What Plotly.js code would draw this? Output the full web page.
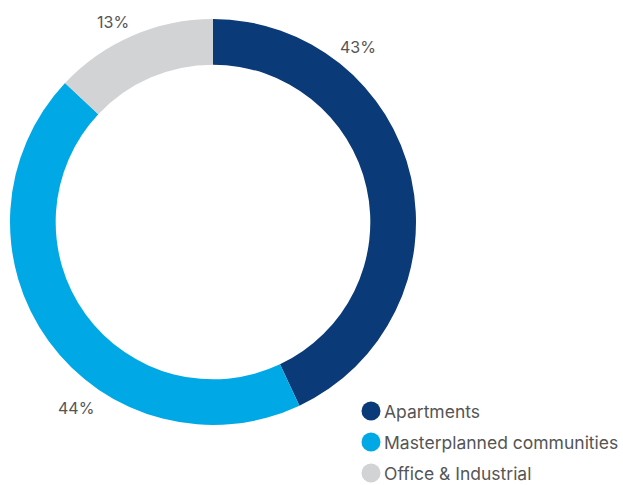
<!DOCTYPE html>
<html><head><meta charset="utf-8">
<script src="https://cdn.plot.ly/plotly-3.0.1.min.js"></script>
<style>html,body{margin:0;padding:0;background:#fff;}#chart{width:623px;height:485px;}</style>
</head><body><div id="chart"></div>
<script>
const categories = ["Apartments", "Masterplanned communities", "Office & Industrial"];
const values = [43, 44, 13];
const valueLabels = ["43%", "44%", "13%"];
const colors = ["#0B3A78", "#00A9E6", "#D1D3D4"];

const W = 623, H = 485;
const cx = 213, cy = 222, R = 203;
const FONT = "Inter, 'Open Sans', sans-serif";

const traces = [{
  type: "pie",
  values: values,
  labels: categories,
  marker: {colors: colors, line: {width: 0}},
  hole: 0.775,
  sort: false,
  direction: "clockwise",
  rotation: 0,
  textinfo: "none",
  hoverinfo: "label+percent",
  showlegend: false,
  domain: {x: [(cx - R) / W, (cx + R) / W], y: [(H - cy - R) / H, (H - cy + R) / H]}
}];

const labelPos = [[358, 47], [76, 408], [113, 22]];
const annotations = valueLabels.map((t, i) => ({
  text: t, showarrow: false, xref: "paper", yref: "paper",
  x: labelPos[i][0] / W, y: 1 - labelPos[i][1] / H,
  xanchor: "center", yanchor: "middle",
  font: {family: FONT, size: 16, color: "#555555"}
}));

// legend built from categories / colors
const legX = 371, legY0 = 411, legStep = 31, legR = 9.5;
const shapes = [];
categories.forEach((c, i) => {
  const y = legY0 + i * legStep;
  shapes.push({
    type: "circle", xref: "paper", yref: "paper",
    xsizemode: "pixel", ysizemode: "pixel",
    xanchor: legX / W, yanchor: 1 - y / H,
    x0: -legR, x1: legR, y0: -legR, y1: legR,
    fillcolor: colors[i], line: {width: 0}
  });
  annotations.push({
    text: c, showarrow: false, xref: "paper", yref: "paper",
    x: 383 / W, y: 1 - y / H, xanchor: "left", yanchor: "middle",
    borderpad: 0,
    font: {family: FONT, size: 17.5, color: "#555555"}
  });
});

const layout = {
  width: W, height: H,
  margin: {l: 0, r: 0, t: 0, b: 0},
  paper_bgcolor: "#ffffff",
  showlegend: false,
  annotations: annotations,
  shapes: shapes
};
Plotly.newPlot("chart", traces, layout, {displayModeBar: false, staticPlot: true});
</script></body></html>
